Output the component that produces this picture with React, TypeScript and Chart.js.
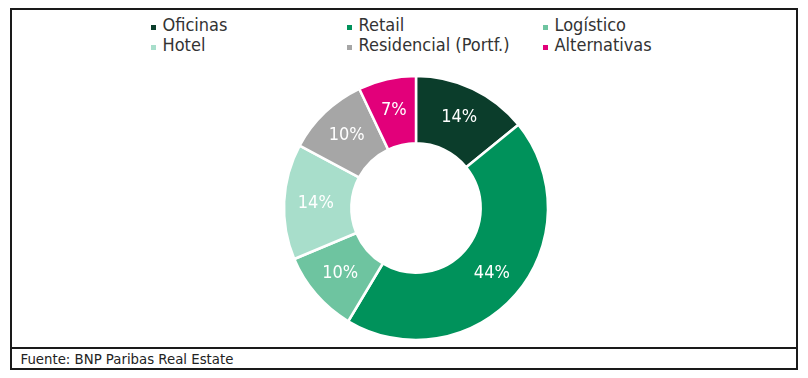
import React, { useEffect, useRef } from "react";
import { Chart, registerables } from "chart.js";

Chart.register(...registerables);

const categories = ["Oficinas", "Retail", "Logístico", "Hotel", "Residencial (Portf.)", "Alternativas"];
const shares = [14, 44, 10, 14, 10, 7];
const colors = ["#0b3d2b", "#00925b", "#6ec4a0", "#a8decb", "#a6a6a6", "#e2007a"];
const sourceText = "Fuente: BNP Paribas Real Estate";

const FONT = "'DejaVu Sans Condensed', 'DejaVu Sans', sans-serif";

const labelPlugin = {
  id: "sliceLabels",
  afterDatasetsDraw(chart: any) {
    const ctx = chart.ctx;
    const meta = chart.getDatasetMeta(0);
    const data = chart.data.datasets[0].data as number[];
    ctx.save();
    try { (ctx as any).fontStretch = "condensed"; } catch (e) {}
    ctx.font = "18px " + FONT;
    ctx.fillStyle = "#ffffff";
    ctx.textAlign = "center";
    ctx.textBaseline = "middle";
    meta.data.forEach((arc: any, i: number) => {
      const p = arc.getProps(["startAngle", "endAngle", "innerRadius", "outerRadius", "x", "y"], true);
      const mid = (p.startAngle + p.endAngle) / 2;
      const r = (p.innerRadius + p.outerRadius) / 2 + 2;
      ctx.fillText(data[i] + "%", p.x + Math.cos(mid) * r, p.y + Math.sin(mid) * r);
    });
    ctx.restore();
  },
};

const legendPos = [
  { mx: 139, row: 0 },
  { mx: 335, row: 0 },
  { mx: 531, row: 0 },
  { mx: 139, row: 1 },
  { mx: 335, row: 1 },
  { mx: 531, row: 1 },
];

export default function App() {
  const canvasRef = useRef<HTMLCanvasElement | null>(null);

  useEffect(() => {
    if (!canvasRef.current) return;
    const chart = new Chart(canvasRef.current, {
      type: "doughnut",
      data: {
        labels: categories,
        datasets: [
          {
            data: shares,
            backgroundColor: colors,
            borderColor: "#ffffff",
            borderWidth: 2.5,
          },
        ],
      },
      options: {
        animation: false,
        responsive: false,
        radius: 132,
        cutout: "49%",
        layout: { padding: 0 },
        plugins: {
          legend: { display: false },
          tooltip: { enabled: false },
        },
      } as any,
      plugins: [labelPlugin],
    });
    return () => chart.destroy();
  }, []);

  return (
    <div
      style={{
        position: "relative",
        marginLeft: 2,
        width: 788,
        height: 362,
        boxSizing: "border-box",
        border: "2px solid #1a1a1a",
        background: "#ffffff",
        fontFamily: FONT,
      }}
    >
      {categories.map((c, i) => {
        const lp = legendPos[i];
        const top = lp.row === 0 ? 4.5 : 25;
        return (
          <React.Fragment key={c}>
            <div
              style={{
                position: "absolute",
                left: lp.mx,
                top: top + 10,
                width: 5,
                height: 5,
                background: colors[i],
              }}
            />
            <div
              style={{
                position: "absolute",
                left: lp.mx + 11.5,
                top: top,
                fontSize: 18,
                lineHeight: "20px",
                color: "#333333",
                fontStretch: "condensed",
                whiteSpace: "nowrap",
              }}
            >
              {c}
            </div>
          </React.Fragment>
        );
      })}
      <canvas
        ref={canvasRef}
        width={300}
        height={300}
        style={{ position: "absolute", left: 254, top: 48, width: 300, height: 300 }}
      />
      <div
        style={{
          position: "absolute",
          left: 0,
          right: 0,
          top: 337,
          height: 2,
          background: "#1a1a1a",
        }}
      />
      <div
        style={{
          position: "absolute",
          left: 8.5,
          top: 341.5,
          fontFamily: "'DejaVu Sans', sans-serif",
          fontSize: 13.3,
          lineHeight: "16px",
          color: "#222222",
          whiteSpace: "nowrap",
        }}
      >
        {sourceText}
      </div>
    </div>
  );
}
